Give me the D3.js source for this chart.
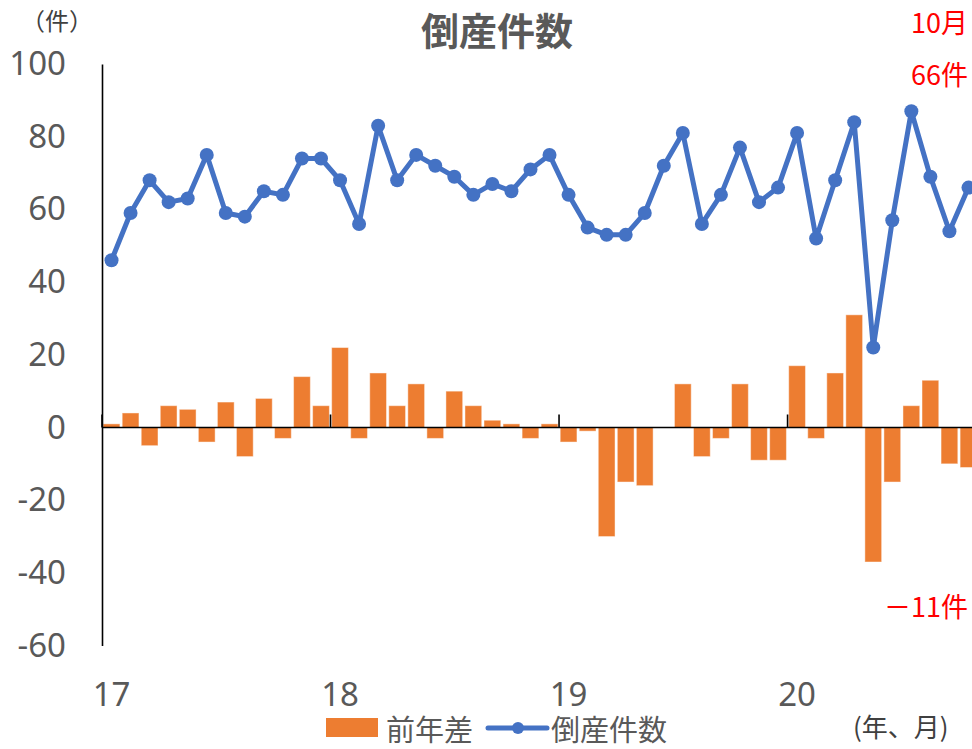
<!DOCTYPE html>
<html>
<head>
<meta charset="utf-8">
<script src="https://cdn.jsdelivr.net/npm/d3@7"></script>
<style>
  body { margin: 0; background: #fff; }
</style>
</head>
<body>
<div id="chart"></div>
<script>
// data (2017/1 - 2020/10)
const years = ["17", "18", "19", "20"];
const counts = [
  46, 59, 68, 62, 63, 75, 59, 58, 65, 64, 74, 74,
  68, 56, 83, 68, 75, 72, 69, 64, 67, 65, 71, 75,
  64, 55, 53, 53, 59, 72, 81, 56, 64, 77, 62, 66,
  81, 52, 68, 84, 22, 57, 87, 69, 54, 66
];
const diffs = [
  1, 4, -5, 6, 5, -4, 7, -8, 8, -3, 14, 6,
  22, -3, 15, 6, 12, -3, 10, 6, 2, 1, -3, 1,
  -4, -1, -30, -15, -16, 0, 12, -8, -3, 12, -9, -9,
  17, -3, 15, 31, -37, -15, 6, 13, -10, -11
];
const yTicks = [100, 80, 60, 40, 20, 0, -20, -40, -60];

const months = years.flatMap(yy => d3.range(1, 13).map(m => yy + "/" + m)).slice(0, counts.length);
const janMonths = months.filter(m => m.endsWith("/1"));

const width = 972;
const height = 749;
const grey = "#595959";
const jpFont = "'Noto Sans CJK JP', sans-serif";
const numFont = "'Noto Sans', sans-serif";

const svg = d3.select("div#chart").append("svg").attr("width", width).attr("height", height)

// scales
const x = d3.scaleBand().domain(months).range([102, 978]).paddingInner(0.12).paddingOuter(0.06)
const y = d3.scaleLinear().domain([-60, 100]).range([645.6, 64])
const cx = m => x(m) + x.bandwidth() / 2

// bars (前年差)
svg.append("g").attr("class", "bars")
  .selectAll("rect")
  .data(months)
  .enter().append("rect")
  .attr("x", d => x(d))
  .attr("y", (d, i) => y(Math.max(0, diffs[i])))
  .attr("width", x.bandwidth())
  .attr("height", (d, i) => Math.abs(y(diffs[i]) - y(0)))
  .attr("fill", "#ED7D31")
  .attr("stroke", "rgba(255,255,255,0.45)")
  .attr("stroke-width", 1)

// y axis
const yAxisGroup = svg.append("g").attr("transform", "translate(102,0)")
  .call(d3.axisLeft(y).tickValues(yTicks).tickFormat(d => String(d)).tickSize(0).tickSizeOuter(0).tickPadding(36))
yAxisGroup.select(".domain").attr("stroke", "#000").attr("stroke-width", 1.6)
yAxisGroup.selectAll("text")
  .attr("font-family", numFont).attr("font-size", 33).attr("fill", grey)

// zero line + year ticks
svg.append("line")
  .attr("x1", 102).attr("x2", width)
  .attr("y1", y(0)).attr("y2", y(0))
  .attr("stroke", "#000").attr("stroke-width", 1.6)
svg.append("g").selectAll("line")
  .data(janMonths)
  .enter().append("line")
  .attr("x1", d => x(d) - x.step() * x.paddingInner() / 2)
  .attr("x2", d => x(d) - x.step() * x.paddingInner() / 2)
  .attr("y1", y(0)).attr("y2", y(0) - 13)
  .attr("stroke", "#000").attr("stroke-width", 1.6)

// x labels
const xAxisGroup = svg.append("g").attr("transform", "translate(0,645)")
  .call(d3.axisBottom(x).tickValues(janMonths).tickFormat(d => d.split("/")[0]).tickSize(0).tickPadding(38))
xAxisGroup.select(".domain").remove()
xAxisGroup.selectAll("text")
  .attr("font-family", numFont).attr("font-size", 33).attr("fill", grey)

// line (倒産件数)
const line = d3.line().x(d => cx(d)).y((d, i) => y(counts[i]))
svg.append("path")
  .datum(months)
  .attr("d", line)
  .attr("fill", "none")
  .attr("stroke", "#4472C4")
  .attr("stroke-width", 5)
  .attr("stroke-linejoin", "round")
svg.append("g").selectAll("circle")
  .data(months)
  .enter().append("circle")
  .attr("cx", d => cx(d))
  .attr("cy", (d, i) => y(counts[i]))
  .attr("r", 7)
  .attr("fill", "#4472C4")

// title and notes
svg.append("text").text("倒産件数")
  .attr("x", 497).attr("y", 28).attr("text-anchor", "middle").attr("dominant-baseline", "central")
  .attr("font-family", jpFont).attr("font-weight", "bold").attr("font-size", 38).attr("fill", grey)
svg.append("text").text("（件）")
  .attr("x", 57).attr("y", 19).attr("text-anchor", "middle").attr("dominant-baseline", "central")
  .attr("font-family", jpFont).attr("font-size", 24).attr("fill", "#404040")
svg.append("text").text("(年、月)")
  .attr("x", 853).attr("y", 725).attr("dominant-baseline", "central")
  .attr("font-family", jpFont).attr("font-size", 26).attr("fill", "#404040")

const notes = [["10月", 21], ["66件", 73], ["－11件", 605]]
svg.append("g").selectAll("text")
  .data(notes)
  .enter().append("text")
  .text(d => d[0])
  .attr("x", 968).attr("y", d => d[1])
  .attr("text-anchor", "end").attr("dominant-baseline", "central")
  .attr("font-family", jpFont).attr("font-size", 27).attr("fill", "#FF0000")

// legend
const legend = svg.append("g").attr("class", "legend")
legend.append("rect").attr("x", 326).attr("y", 718).attr("width", 52).attr("height", 19).attr("fill", "#ED7D31")
legend.append("text").text("前年差")
  .attr("x", 386).attr("y", 728).attr("dominant-baseline", "central")
  .attr("font-family", jpFont).attr("font-size", 29).attr("fill", grey)
legend.append("line").attr("x1", 488).attr("x2", 547).attr("y1", 728).attr("y2", 728)
  .attr("stroke", "#4472C4").attr("stroke-width", 5).attr("stroke-linecap", "round")
legend.append("circle").attr("cx", 518).attr("cy", 728).attr("r", 6).attr("fill", "#4472C4")
legend.append("text").text("倒産件数")
  .attr("x", 551).attr("y", 728).attr("dominant-baseline", "central")
  .attr("font-family", jpFont).attr("font-size", 29).attr("fill", grey)
</script>
</body>
</html>
